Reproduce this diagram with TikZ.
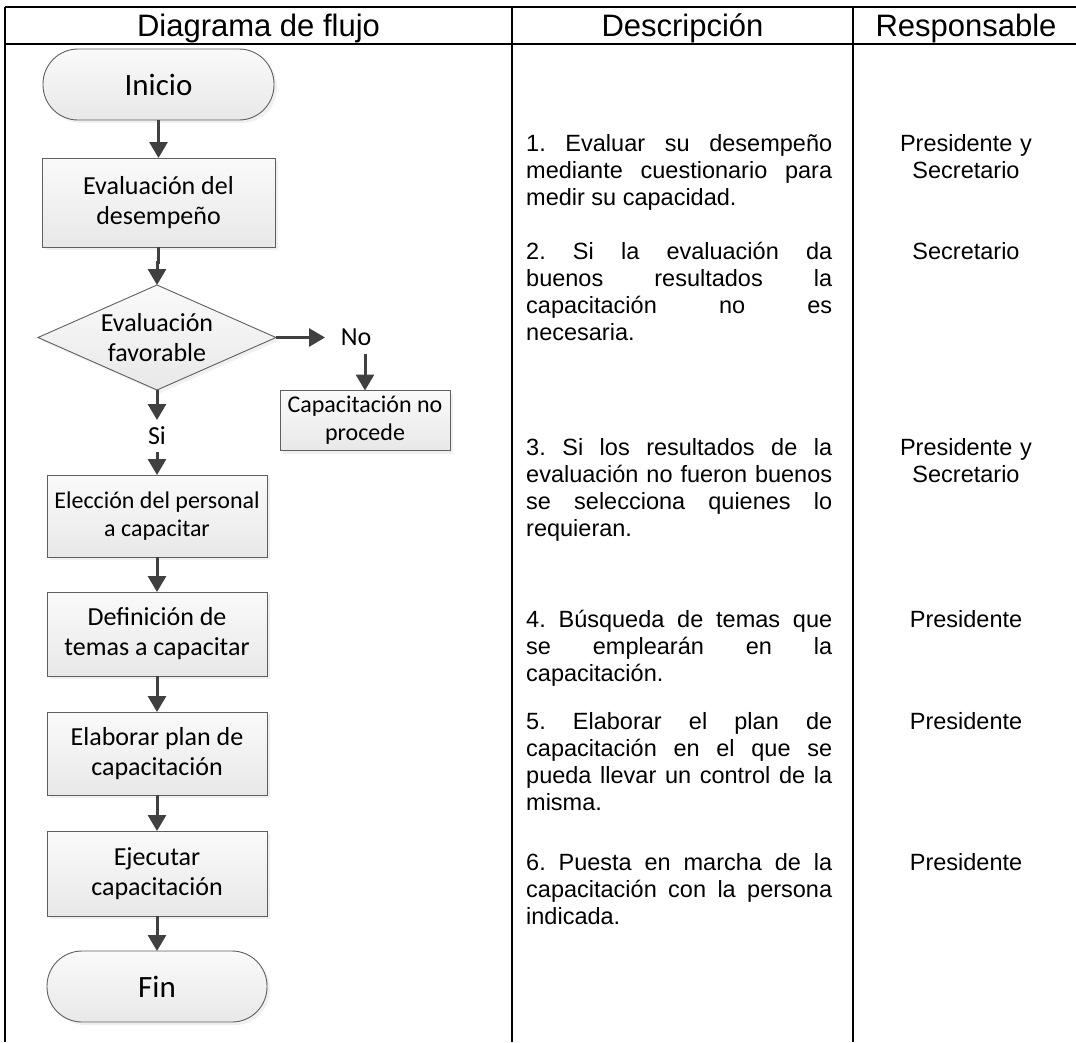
\documentclass[tikz,border=0pt]{standalone}
\usepackage{fontspec}
\setmainfont{Liberation Sans}
\newfontfamily\calibri{Carlito}
\usetikzlibrary{positioning,shapes.geometric,arrows.meta,shadows}
\frenchspacing
\tolerance=10000
\hyphenpenalty=10000

\definecolor{linea}{HTML}{404040}
\definecolor{borde}{HTML}{5F5F5F}

\tikzset{
  caja/.style={draw=borde, line width=0.9pt, top color=black!2, bottom color=black!9,
    outer sep=0pt, inner sep=2pt, align=center,
    font=\calibri\fontsize{26}{30}\selectfont,
    drop shadow={opacity=0.12, shadow xshift=3pt, shadow yshift=-3pt}},
  chica/.style={font=\calibri\fontsize{24}{28}\selectfont},
  term/.style={caja, rounded corners=35pt, minimum height=71pt,
    font=\calibri\fontsize{31}{36}\selectfont},
  decision/.style={caja, diamond, aspect=2.27, inner sep=0pt,
    minimum width=238pt, minimum height=105pt},
  flecha/.style={draw=linea, line width=3pt, -{Triangle[length=16pt,width=18pt]}},
  etiq/.style={inner sep=0pt, outer sep=0pt, minimum height=32pt,
    font=\calibri\fontsize{26}{30}\selectfont},
  desc/.style={anchor=base west, inner sep=0pt, text width=306pt, align=justify,
    font=\fontsize{23.5}{27}\selectfont},
  resp/.style={anchor=base, inner sep=0pt, text width=220pt, align=center,
    font=\fontsize{23.5}{27}\selectfont},
  cabecera/.style={anchor=base, inner sep=0pt, font=\fontsize{31}{36}\selectfont},
  tabla/.style={line width=2pt}
}

\begin{document}
\begin{tikzpicture}[x=1pt, y=-1pt]
  \useasboundingbox (0,0) rectangle (1076,1042);

  \draw[tabla] (5,7) -- (1076,7);
  \draw[tabla] (5,44) -- (1076,44);
  \draw[tabla] (5,7) -- (5,1042);
  \draw[tabla] (512,7) -- (512,1042);
  \draw[tabla] (853,7) -- (853,1042);

  \node[cabecera] (h1) at (258.5,36) {Diagrama de flujo};
  \node[cabecera] (h2) at (682.5,36) {Descripción};
  \node[cabecera] (h3) at (966,36) {Responsable};

  \node[term, minimum width=231pt] (ini) at (158.5,84.5) {Inicio};
  \node[caja, minimum width=233pt, minimum height=89pt, below=38pt of ini] (eval) {Evaluación del\\desempeño};
  \node[decision, below=38pt of eval, xshift=-1.5pt] (dec) {Evaluación\\favorable};
  \node[etiq, minimum width=62pt, right=49pt of dec] (no) {No};
  \node[caja, chica, minimum width=170pt, minimum height=60pt, below=37pt of no, xshift=9pt] (cap) {Capacitación no\\procede};
  \node[etiq, below=30pt of dec] (si) {Si};
  \node[caja, chica, minimum width=220pt, minimum height=82pt, below=23pt of si] (elec) {Elección del personal\\a capacitar};
  \node[caja, minimum width=220pt, minimum height=84pt, below=35pt of elec] (def) {Definición de\\temas a capacitar};
  \node[caja, minimum width=220pt, minimum height=83pt, below=36pt of def] (elab) {Elaborar plan de\\capacitación};
  \node[caja, minimum width=220pt, minimum height=85pt, below=36pt of elab] (ejec) {Ejecutar\\capacitación};
  \node[term, minimum width=220pt, below=35pt of ejec] (fin) {Fin};

  \draw[flecha] (ini) -- (eval);
  \draw[flecha] (eval.south) -- ++(0,15) -| (dec.north);
  \draw[flecha] (dec.east) -- (no.west);
  \draw[flecha] (no.south -| cap.north) -- (cap.north);
  \draw[flecha] (dec.south) -- (si.north);
  \draw[flecha] (si.south) -- (elec.north);
  \draw[flecha] (elec) -- (def);
  \draw[flecha] (def) -- (elab);
  \draw[flecha] (elab) -- (ejec);
  \draw[flecha] (ejec) -- (fin);

  \node[desc] (d1) at (526,151) {1. Evaluar su desempeño\linebreak mediante cuestionario para\linebreak medir su capacidad.};
  \node[desc] (d2) at (526,259) {2. Si la evaluación da\linebreak buenos resultados la\linebreak capacitación no es\linebreak necesaria.};
  \node[desc] (d3) at (526,455) {3. Si los resultados de la\linebreak evaluación no fueron buenos\linebreak se selecciona quienes lo\linebreak requieran.};
  \node[desc] (d4) at (526,627) {4. Búsqueda de temas que\linebreak se emplearán en la\linebreak capacitación.};
  \node[desc] (d5) at (526,729) {5. Elaborar el plan de\linebreak capacitación en el que se\linebreak pueda llevar un control de la\linebreak misma.};
  \node[desc] (d6) at (526,870) {6. Puesta en marcha de la\linebreak capacitación con la persona\linebreak indicada.};

  \node[resp] (r1) at (966,151) {Presidente y\\Secretario};
  \node[resp] (r2) at (966,259) {Secretario};
  \node[resp] (r3) at (966,455) {Presidente y\\Secretario};
  \node[resp] (r4) at (966,627) {Presidente};
  \node[resp] (r5) at (966,729) {Presidente};
  \node[resp] (r6) at (966,870) {Presidente};
\end{tikzpicture}
\end{document}
